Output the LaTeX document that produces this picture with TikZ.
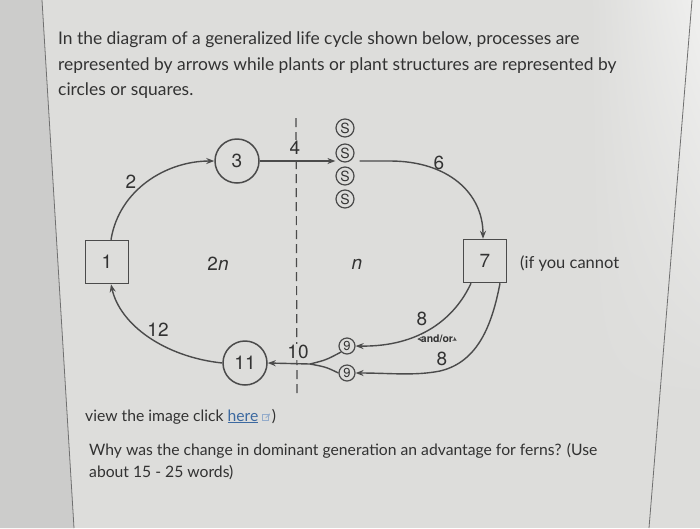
\documentclass[tikz,border=0pt]{standalone}
\usepackage{fontspec}
\setmainfont{Lato}
\newfontfamily\diagfont{TeX Gyre Heros}
\usetikzlibrary{arrows.meta,shadings}
\definecolor{bg}{RGB}{221,221,219}
\definecolor{bgout}{RGB}{204,204,203}
\definecolor{ink}{RGB}{50,50,50}
\definecolor{lc}{RGB}{75,75,75}
\definecolor{linkc}{RGB}{60,105,160}
\begin{document}
\begin{tikzpicture}[x=1pt,y=-1pt,
  txt/.style={anchor=base west, inner sep=0pt, text=ink, font=\fontsize{17.4}{20}\selectfont},
  txtb/.style={anchor=base west, inner sep=0pt, text=ink, font=\fontsize{15.7}{19}\selectfont},
  lab/.style={inner sep=1pt, text=ink, font=\diagfont\fontsize{19}{22}\selectfont},
  circ/.style={circle, draw=lc, line width=1.5pt, minimum size=44pt, inner sep=0pt, text=ink, font=\diagfont\fontsize{19}{22}\selectfont},
  sq/.style={rectangle, draw=lc, line width=1.5pt, minimum size=43pt, inner sep=0pt, text=ink, font=\diagfont\fontsize{19}{22}\selectfont},
  smc/.style={circle, draw=lc, line width=1.2pt, minimum size=18pt, inner sep=0pt, text=ink, font=\diagfont\fontsize{14}{14}\selectfont},
  conn/.style={draw=lc, line width=1.4pt},
  arr/.style={conn, -{Stealth[length=8pt, width=6pt]}},
  dashln/.style={draw=lc, line width=1.2pt, dash pattern=on 9pt off 5pt}
]
\useasboundingbox (0,0) rectangle (700,528);
% background
\fill[bg] (0,0) rectangle (700,528);
\fill[bgout] (0,0) -- (42,0) -- (74,528) -- (0,528) -- cycle;
\shade[upper left=bg, upper right=white!55!bg, lower left=bg, lower right=bg] (590,0) rectangle (700,400);
\draw[lc!80, line width=0.8pt] (42,0) -- (74,528);
\draw[lc!80, line width=0.8pt] (692,0) -- (649,528);

% question text
\node[txt] (t1) at (58,44) {In the diagram of a generalized life cycle shown below, processes are};
\node[txt] (t2) at (58,70) {represented by arrows while plants or plant structures are represented by};
\node[txt] (t3) at (58,95) {circles or squares.};

% dashed separator
\coordinate (d1) at (296,118);
\coordinate (d2) at (297,393);
\draw[dashln] (d1) -- (d2);

% nodes
\node[sq] (b1) at (107,262) {1};
\node[sq] (b7) at (485,261) {7};
\node[circ] (c3) at (237,161) {3};
\node[circ] (c11) at (245,363) {11};
\node[smc] (s1) at (345,128) {S};
\node[smc] (s2) at (345,153) {S};
\node[smc] (s3) at (345,176) {S};
\node[smc] (s4) at (345,199) {S};
\node[smc, minimum size=16pt, font=\diagfont\fontsize{13}{13}\selectfont] (n1) at (347,346) {9};
\node[smc, minimum size=16pt, font=\diagfont\fontsize{13}{13}\selectfont] (n2) at (347,373) {9};
\coordinate (m) at (310,364);

% labels
\node[lab] (l2n) at (218,264) {2\textit{n}};
\node[lab] (ln) at (357,264) {\textit{n}};
\node[txtb, font=\fontsize{16.5}{20}\selectfont] (tif) at (520,268) {(if you cannot};

% arrows
\draw[arr] ([xshift=4pt]b1.north) .. controls +(8,-50) and +(-48,0) .. (c3.west);
\node[lab] (l2) at (131,182) {2};
\draw[arr] (c3.east) -- (s2.west |- c3.east);
\node[lab, fill=bg] (l4) at (295,148) {4};
\draw[arr] ([xshift=5pt]s2.east |- c3.east) -- (390,161) .. controls (448,161) and (483,193) .. ([xshift=-2pt]b7.north);
\node[lab] (l6) at (439,163) {6};

\draw[arr] ([xshift=-14pt]b7.south) .. controls (455,318) and (420,347) .. (n1.east);
\draw[arr] ([xshift=15pt]b7.south) .. controls (492,325) and (478,362) .. (440,371) .. controls (415,376) and (390,373) .. (n2.east);
\node[lab] (l8a) at (422,319) {8};
\node[lab] (l8b) at (442,359) {8};
\node[inner sep=0.5pt, fill=bg, text=ink, font=\diagfont\bfseries\fontsize{10.5}{11}\selectfont] (ando) at (437,339) {and/or};
\draw[conn, line width=0.8pt, -{Stealth[length=4pt,width=4pt]}] (ando.west) -- ++(-3,0);
\draw[conn, line width=0.8pt, -{Stealth[length=4pt,width=4pt]}] (ando.east) -- ++(3,1.5);

\draw[conn] (n1.south west) .. controls (326,360) .. (m);
\draw[conn] (n2.west) .. controls (326,367) .. (m);
\draw[arr] (m) -- (c11.east);
\node[lab, fill=bg] (l10) at (298,352) {10};

\draw[arr] (c11.west) .. controls (165,357) and (120,325) .. ([xshift=4pt]b1.south);
\node[lab] (l12) at (158,330) {12};

% bottom text
\node[txtb] (t4) at (85,421) {view the image click \textcolor{linkc}{\underline{here}}};
\coordinate (ic) at ([xshift=4pt]t4.base east);
\draw[linkc!55, line width=0.7pt] ([yshift=0.5pt]ic) rectangle ++(6,-6);
\draw[linkc!55, line width=0.7pt, -{Stealth[length=2.5pt,width=2.5pt]}] ([xshift=3pt,yshift=3pt]ic) -- ++(4.5,-4.5);
\node[txtb] (t5) at ([xshift=13pt]t4.base east) {)};
\node[txtb] (t6) at (89,455) {Why was the change in dominant generation an advantage for ferns? (Use};
\node[txtb] (t7) at (89,477) {about 15 - 25 words)};
\end{tikzpicture}
\end{document}
